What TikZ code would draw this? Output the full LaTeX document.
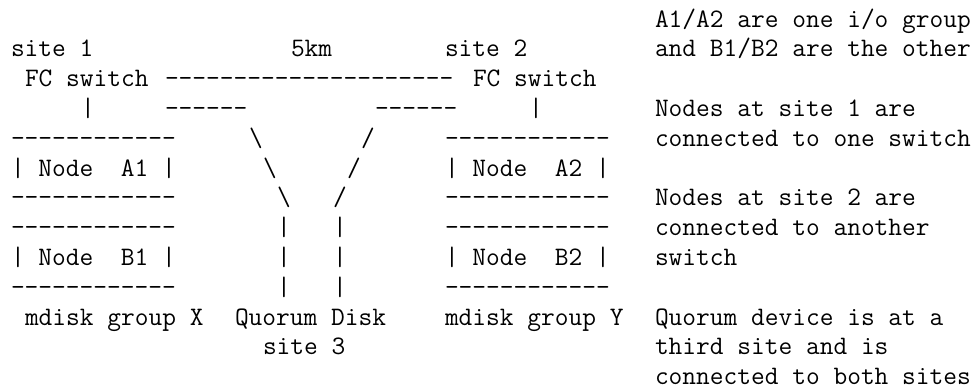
\documentclass[tikz,border=0pt]{standalone}
\usepackage{fontspec}
\setmonofont{Latin Modern Mono}[Ligatures=ResetAll]

\begin{document}
\begin{tikzpicture}[x=7pt, y=-14.9pt]
	\tikzset{txt/.style={anchor=base west, inner sep=0pt, outer sep=0pt,
			font=\ttfamily\fontsize{13.333}{14.9}\selectfont}}
	\useasboundingbox (-0.786,0.094) rectangle (69.143,13.148);

	% sites and switches
	\node [txt] (site1) at (0,2) {site 1};
	\node [txt] (dist) at (20,2) {5km};
	\node [txt] (site2) at (31,2) {site 2};
	\node [txt] (sw1) at (1,3) {FC switch};
	\node [txt] (isl) at (11,3) {---------------------};
	\node [txt] (sw2) at (33,3) {FC switch};
	\node [txt] (up1) at (5,4) {|};
	\node [txt] (qa) at (11,4) {------};
	\node [txt] (qb) at (26,4) {------};
	\node [txt] (up2) at (37,4) {|};

	% nodes at site 1
	\node [txt] (a1top) at (0,5) {------------};
	\node [txt] (a1) at (0,6) {|~Node~~A1~|};
	\node [txt] (a1bot) at (0,7) {------------};
	\node [txt] (b1top) at (0,8) {------------};
	\node [txt] (b1) at (0,9) {|~Node~~B1~|};
	\node [txt] (b1bot) at (0,10) {------------};
	\node [txt] (grpx) at (1,11) {mdisk group X};

	% nodes at site 2
	\node [txt] (a2top) at (31,5) {------------};
	\node [txt] (a2) at (31,6) {|~Node~~A2~|};
	\node [txt] (a2bot) at (31,7) {------------};
	\node [txt] (b2top) at (31,8) {------------};
	\node [txt] (b2) at (31,9) {|~Node~~B2~|};
	\node [txt] (b2bot) at (31,10) {------------};
	\node [txt] (grpy) at (31,11) {mdisk group Y};

	% links to the quorum disk
	\node [txt] (la1) at (17,5) {\textbackslash};
	\node [txt] (la2) at (18,6) {\textbackslash};
	\node [txt] (la3) at (19,7) {\textbackslash};
	\node [txt] (lb1) at (25,5) {/};
	\node [txt] (lb2) at (24,6) {/};
	\node [txt] (lb3) at (23,7) {/};
	\foreach \r in {8,9,10} {
		\node [txt] (lc\r) at (19,\r) {|};
		\node [txt] (ld\r) at (23,\r) {|};
	}
	\node [txt] (quorum) at (16,11) {Quorum Disk};
	\node [txt] (site3) at (18,12) {site 3};

	% notes
	\node [txt] (note1) at (46,1) {A1/A2 are one i/o group};
	\node [txt] (note2) at (46,2) {and B1/B2 are the other};
	\node [txt] (note3) at (46,4) {Nodes at site 1 are};
	\node [txt] (note4) at (46,5) {connected to one switch};
	\node [txt] (note5) at (46,7) {Nodes at site 2 are};
	\node [txt] (note6) at (46,8) {connected to another};
	\node [txt] (note7) at (46,9) {switch};
	\node [txt] (note8) at (46,11) {Quorum device is at a};
	\node [txt] (note9) at (46,12) {third site and is};
	\node [txt] (note10) at (46,13) {connected to both sites};
\end{tikzpicture}
\end{document}
